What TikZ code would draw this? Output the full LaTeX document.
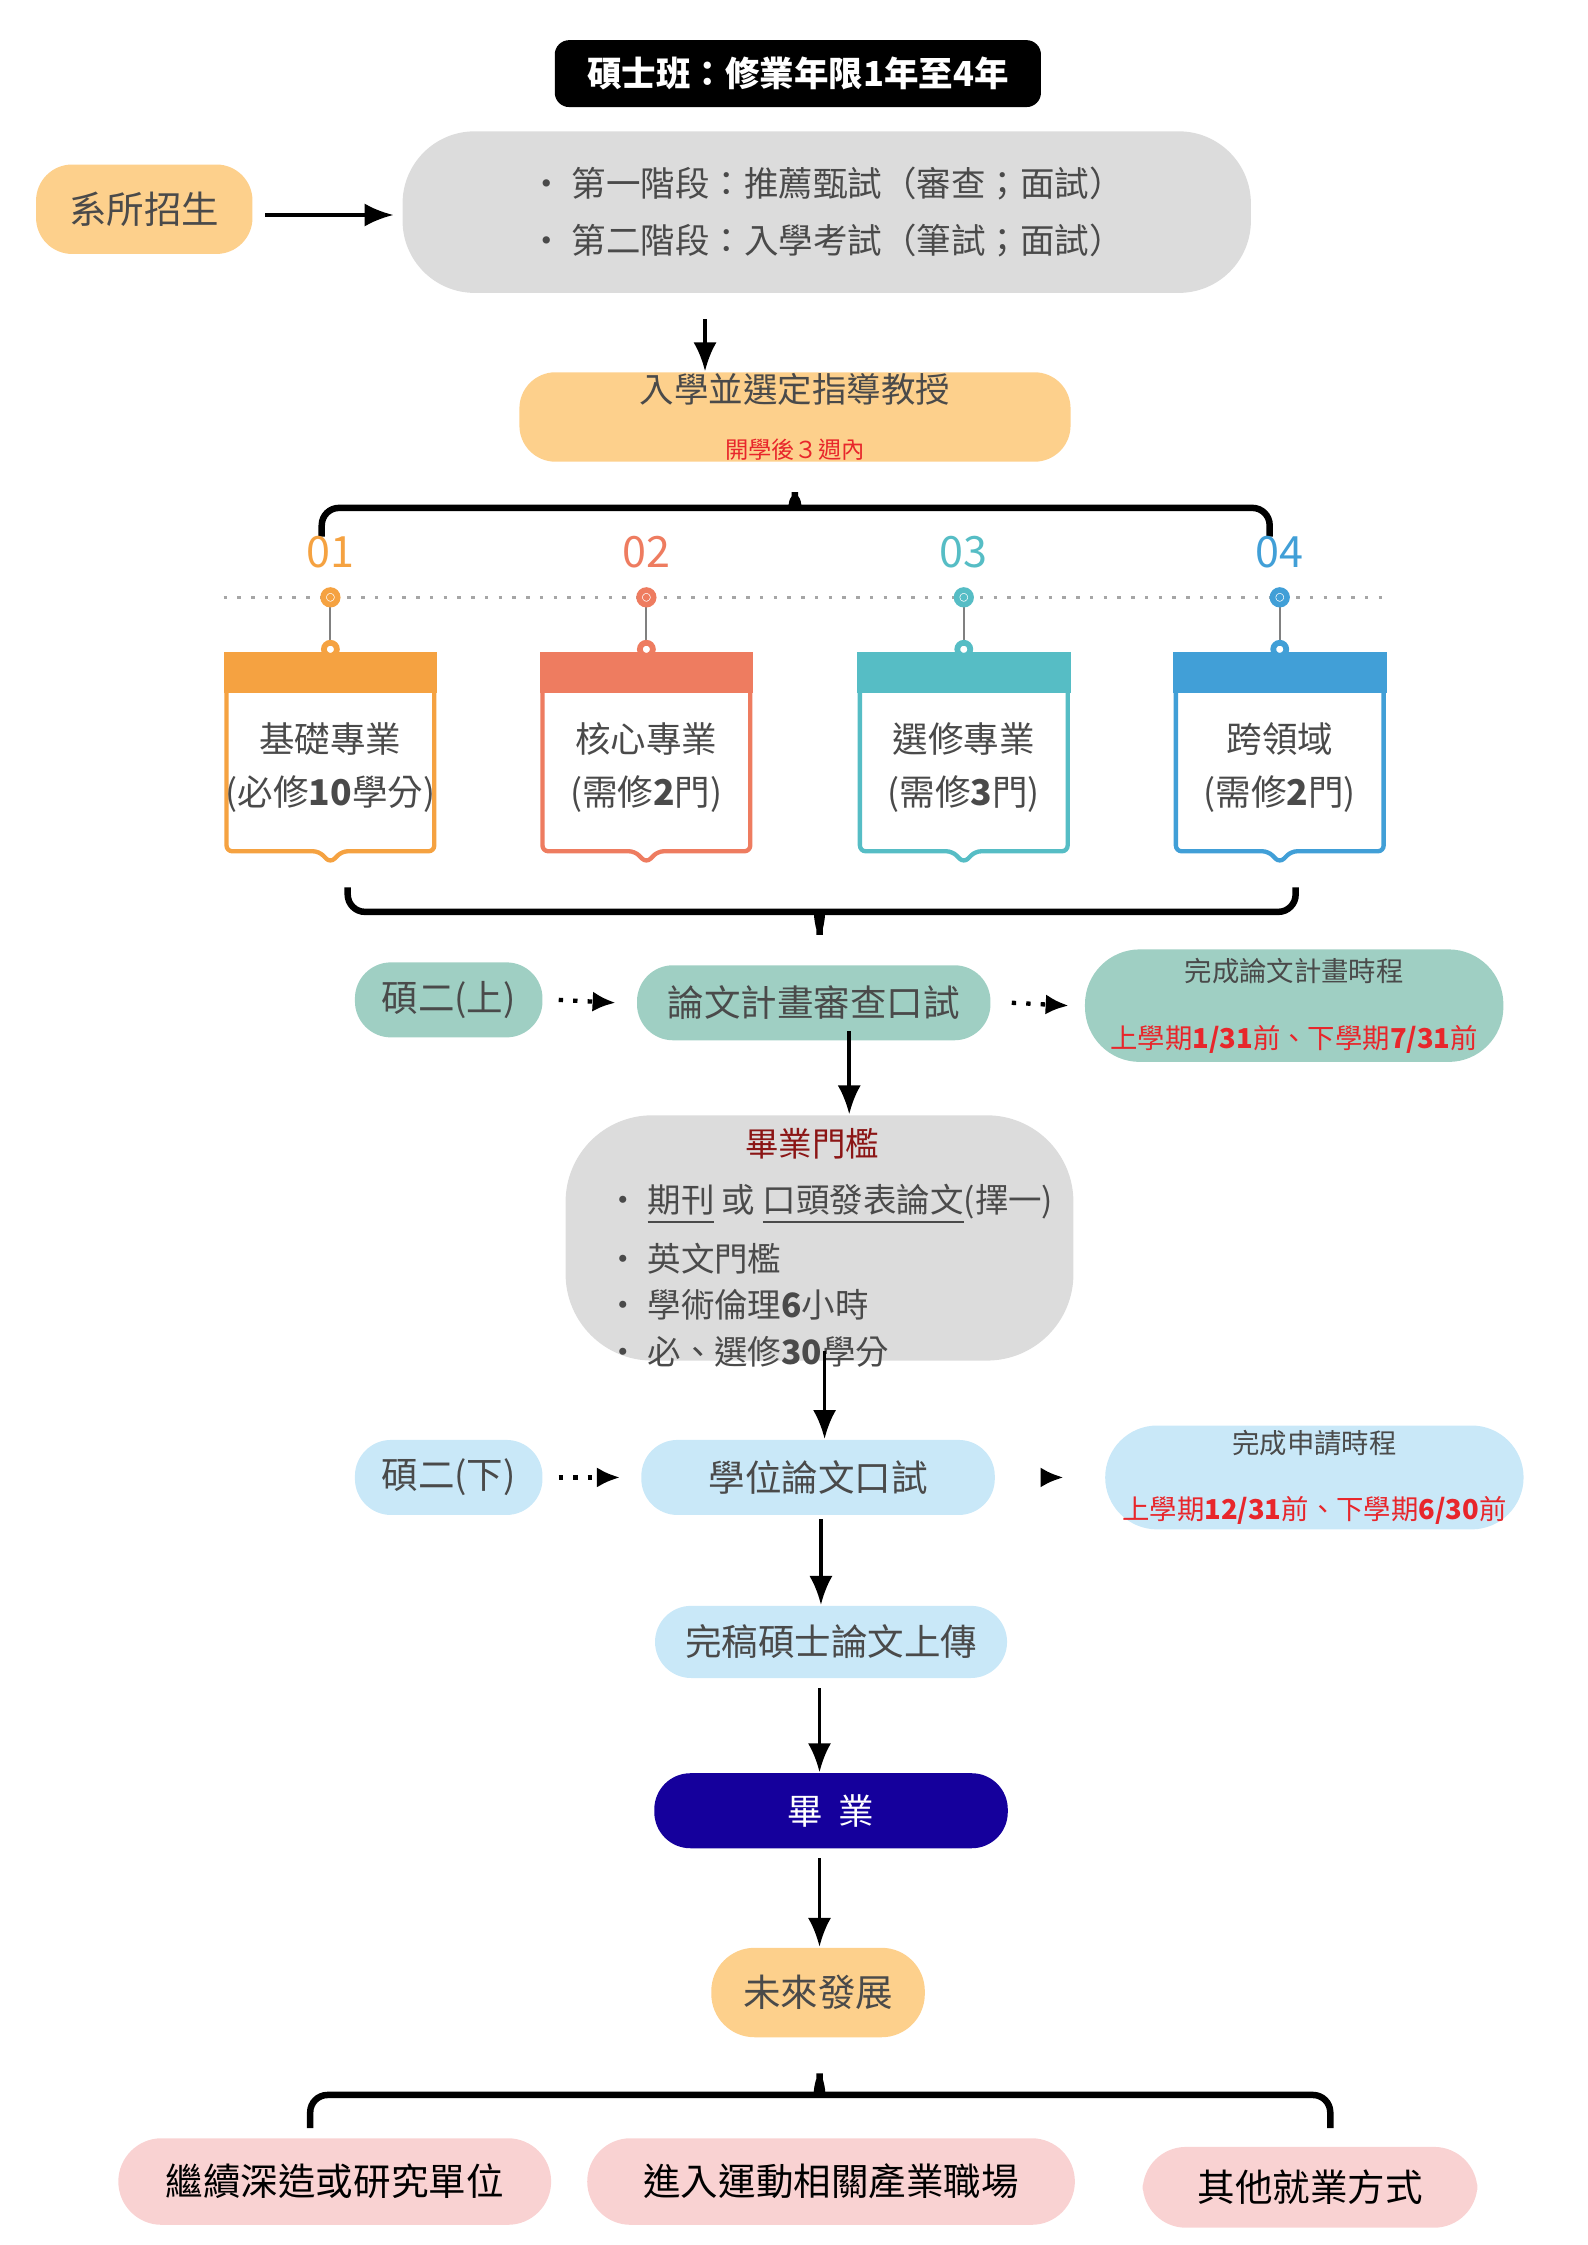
\documentclass[tikz,border=0pt]{standalone}
\usepackage{fontspec}
\setmainfont{Noto Sans CJK TC}
\usetikzlibrary{arrows.meta,positioning}
\definecolor{pillorange}{HTML}{FDD08C}
\definecolor{pillgray}{HTML}{DCDCDC}
\definecolor{pillteal}{HTML}{9FCFC3}
\definecolor{pillblue}{HTML}{C9E8F8}
\definecolor{pillpink}{HTML}{F9D2D2}
\definecolor{navy}{HTML}{15009C}
\definecolor{txtgray}{HTML}{4A4A4A}
\definecolor{redtxt}{HTML}{E8262B}
\definecolor{darkred}{HTML}{8B1515}
\definecolor{cOne}{HTML}{F5A241}
\definecolor{cTwo}{HTML}{EE7C60}
\definecolor{cThree}{HTML}{56BDC5}
\definecolor{cFour}{HTML}{419FD7}
\newcommand{\fsz}[1]{\fontsize{#1}{#1}\selectfont}
\begin{document}
\begin{tikzpicture}[x=0.1mm,y=-0.1mm,
  pill/.style={rounded corners=2.5mm,inner sep=0pt,align=center,text=txtgray},
  arr/.style={-{Latex[length=2mm,width=1.6mm]},line width=0.25mm},
  darr/.style={-{Latex[length=1.6mm,width=1.4mm]},line width=0.3mm,dotted},
  brace/.style={line width=0.45mm,rounded corners=1.2mm}]
\useasboundingbox (0,0) rectangle (1100,1556);
% title
\node[fill=black,rounded corners=1mm,minimum width=33.7mm,minimum height=4.6mm,text=white,font=\fsz{6.8}\bfseries] (title) at (553,51) {碩士班：修業年限1年至4年};
% admission
\node[pill,fill=pillorange,minimum width=15mm,minimum height=6.2mm,font=\fsz{7.4}] (dept) at (100,145) {系所招生};
\node[pill,fill=pillgray,rounded corners=5mm,minimum width=58.8mm,minimum height=11.2mm,font=\fsz{6.8},align=left] (stage) at (573,147) {•\ 第一階段：推薦甄試（審查；面試）\\[1.6mm] •\ 第二階段：入學考試（筆試；面試）};
\draw[arr] (dept.east)++(8,4) coordinate (d1) -- ++(89,0) coordinate (d2);
\node[pill,fill=pillorange,minimum width=38.2mm,minimum height=6.2mm] (advisor) at (551,289) {\fsz{6.8}入學並選定指導教授\\[-0.3mm]{\fsz{4.6}\color{redtxt}開學後３週內}};
\coordinate (s1) at ([xshift=-24,yshift=-5]stage.south);
\draw[arr] (s1) -- (advisor.north -| s1);
% top brace
\draw[brace] (223,372) -- (223,352) -- (538,352) to[out=0,in=-90] (551,334) to[out=-90,in=180] (564,352) -- (880,352) -- (880,372);
\draw[gray!70,dotted,line width=0.25mm] (155,414) -- (962,414);
% four tracks
\foreach \i/\x/\c/\ta/\tb in {1/229/cOne/基礎專業/(必修\textbf{10}學分),2/448/cTwo/核心專業/(需修\textbf{2}門),3/668/cThree/選修專業/(需修\textbf{3}門),4/887/cFour/跨領域/(需修\textbf{2}門)}{
  \node[text=\c,font=\fsz{8.5}] (num\i) at (\x,383) {0\i};
  \fill[\c] (\x-74,452) rectangle (\x+74,480);
  \fill[white] (\x-71,480) rectangle (\x+71,589);
  \draw[\c,line width=0.3mm,rounded corners=0.4mm] (\x-72,472) -- (\x-72,590) -- (\x-8,590) -- (\x,598) -- (\x+8,590) -- (\x+72,590) -- (\x+72,472);
  \coordinate (top\i) at (\x,414);
  \coordinate (hook\i) at (\x,450);
  \draw[gray,line width=0.15mm] (top\i) -- (hook\i);
  \draw[\c,fill=white,line width=0.4mm] (top\i) circle (5);
  \fill[\c] (top\i) circle (2.5);
  \draw[\c,fill=white,line width=0.4mm] (hook\i) circle (4.5);
  \node[text=txtgray,font=\fsz{7},align=center] (box\i) at (\x,532) {\ta\\[1.2mm]\tb};
}
% bottom brace
\draw[brace] (241,615) -- (241,632) -- (555,632) to[out=0,in=90] (568,655) to[out=90,in=180] (581,632) -- (898,632) -- (898,615);
% proposal row
\node[pill,fill=pillteal,minimum width=13mm,minimum height=5.2mm,font=\fsz{7.2}] (ytwoa) at (311,693) {碩二(上)};
\node[pill,fill=pillteal,minimum width=24.5mm,minimum height=5.2mm,font=\fsz{7.2}] (proposal) at (564,695) {論文計畫審查口試};
\node[pill,fill=pillteal,rounded corners=3.8mm,minimum width=29mm,minimum height=7.8mm] (ptime) at (897,697) {\fsz{5.4}完成論文計畫時程\\[0.4mm]{\fsz{5.4}\color{redtxt}上學期\textbf{1/31}前、下學期\textbf{7/31}前}};
\draw[darr] ([xshift=3]ytwoa.east) -- ([xshift=-4]proposal.west);
\draw[darr] ([xshift=4]proposal.east) -- ([xshift=-3]ptime.west);
% graduation threshold
\node[pill,fill=pillgray,rounded corners=6mm,minimum width=35.2mm,minimum height=17mm,align=left] (thresh) at (568,858) {};
\node[font=\fsz{6.6},text=darkred] (threshT) at (563,793) {畢業門檻};
\node[font=\fsz{6.6},text=txtgray,align=left,anchor=north west] (threshL) at (408,808) {•\ \underline{期刊} 或 \underline{口頭發表論文}(擇一)\\[0.9mm] •\ 英文門檻\\[0.9mm] •\ 學術倫理\textbf{6}小時\\[0.9mm] •\ 必、選修\textbf{30}學分};
\coordinate (p1) at ([xshift=7,yshift=2]proposal.south);
\draw[arr] (p1) -- (thresh.north -| p1);
% defence row
\node[pill,fill=pillblue,minimum width=13mm,minimum height=5.2mm,font=\fsz{7.2}] (ytwob) at (311,1024) {碩二(下)};
\node[pill,fill=pillblue,minimum width=24.5mm,minimum height=5.2mm,font=\fsz{7.2}] (defence) at (567,1024) {學位論文口試};
\node[pill,fill=pillblue,rounded corners=3.6mm,minimum width=29mm,minimum height=7.2mm] (dtime) at (911,1024) {\fsz{5.4}完成申請時程\\[0.4mm]{\fsz{5.4}\color{redtxt}上學期\textbf{12/31}前、下學期\textbf{6/30}前}};
\draw[darr] ([xshift=3]ytwob.east) -- ([xshift=-4]defence.west);
\draw[darr] ([xshift=10]defence.east) -- ([xshift=-8]dtime.west);
\coordinate (t1) at ([xshift=1,yshift=2]thresh.south);
\draw[arr] (t1) -- (defence.north -| t1);
% upload, graduate, future
\node[pill,fill=pillblue,minimum width=24.4mm,minimum height=5mm,font=\fsz{7.2}] (upload) at (576,1138) {完稿碩士論文上傳};
\node[pill,fill=navy,text=white,minimum width=24.5mm,minimum height=5.2mm,font=\fsz{7}] (grad) at (576,1255) {畢\ \ 業};
\node[pill,fill=pillorange,rounded corners=3mm,minimum width=14.8mm,minimum height=6.2mm,font=\fsz{7.4}] (future) at (567,1381) {未來發展};
\coordinate (u1) at (569,1053);
\coordinate (u2) at (568,1170);
\coordinate (u3) at (568,1288);
\draw[arr] (u1) -- (upload.north -| u1);
\draw[arr] (u2) -- (grad.north -| u2);
\draw[arr] (u3) -- (future.north -| u3);
% careers
\draw[brace] (215,1475) -- (215,1452) -- (555,1452) to[out=0,in=-90] (568,1430) to[out=-90,in=180] (581,1452) -- (922,1452) -- (922,1475);
\node[pill,fill=pillpink,rounded corners=3mm,minimum width=30mm,minimum height=6mm,font=\fsz{7.4},text=black] (study) at (232,1512) {繼續深造或研究單位};
\node[pill,fill=pillpink,rounded corners=3mm,minimum width=33.8mm,minimum height=6mm,font=\fsz{7.4},text=black] (industry) at (576,1512) {進入運動相關產業職場};
\node[pill,fill=pillpink,rounded corners=3mm,minimum width=23.2mm,minimum height=5.6mm,font=\fsz{7.4},text=black] (other) at (908,1516) {其他就業方式};
\end{tikzpicture}
\end{document}
